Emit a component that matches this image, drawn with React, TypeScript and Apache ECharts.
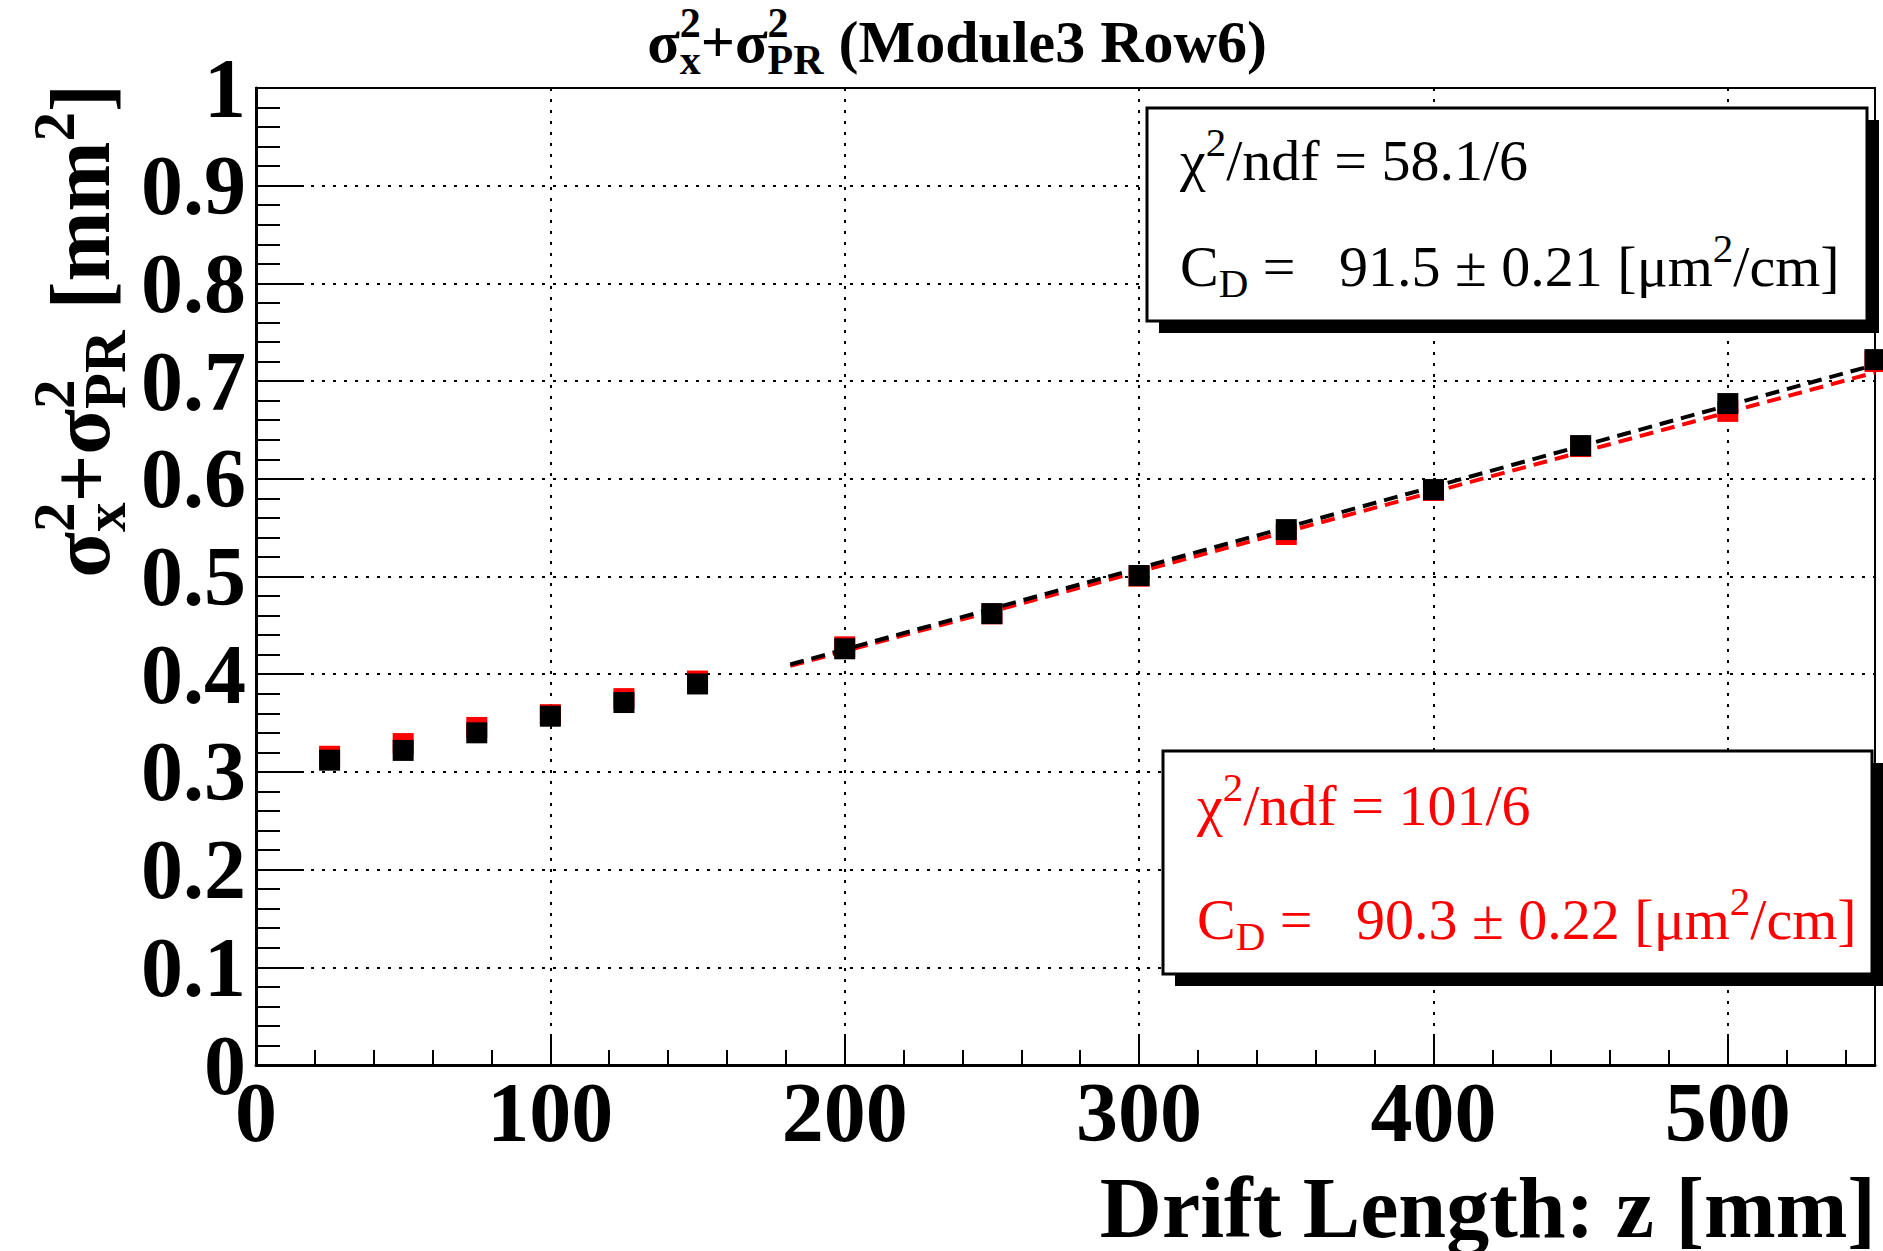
import React, { useEffect, useRef } from 'react';
import * as echarts from 'echarts';

// ---- data ----
const driftZ = [25, 50, 75, 100, 125, 150, 200, 250, 300, 350, 400, 450, 500, 550];
const sigmaBlack = [0.312, 0.322, 0.340, 0.357, 0.371, 0.390, 0.426, 0.462, 0.501, 0.548, 0.589, 0.634, 0.677, 0.722];
const sigmaRed = [0.316, 0.329, 0.3455, 0.3586, 0.375, 0.393, 0.428, 0.4618, 0.5003, 0.543, 0.588, 0.633, 0.669, 0.720];
const fitBlackZ = [181.5, 550];
const fitBlackY = [0.410, 0.7167];
const fitRedZ = [181.5, 550];
const fitRedY = [0.4085, 0.7088];
const xTickLabels = [0, 100, 200, 300, 400, 500];
const statBlack = { chi: '58.1/6', cd: '91.5 ± 0.21' };
const statRed = { chi: '101/6', cd: '90.3 ± 0.22' };

const FONT = '"Liberation Serif", "Times New Roman", serif';
const RED = '#ff0000';

let measureCtx: CanvasRenderingContext2D | null = null;
function tw(text: string, size: number, weight: string) {
  if (!measureCtx) measureCtx = document.createElement('canvas').getContext('2d');
  measureCtx!.font = `${weight} ${size}px "Liberation Serif"`;
  return measureCtx!.measureText(text).width;
}

type Piece = { t?: string; sup?: string; sub?: string; g?: number };

function layout(pieces: Piece[], S: number, weight: string, color: string, x0: number, y0: number, align: 'left' | 'right' | 'center', z = 50) {
  const s = Math.round(S * 0.7);
  const widths = pieces.map((p) => {
    if (p.g !== undefined) return p.g * S;
    if (p.t !== undefined) return tw(p.t, S, weight);
    return Math.max(p.sup ? tw(p.sup, s, weight) : 0, p.sub ? tw(p.sub, s, weight) : 0);
  });
  const total = widths.reduce((a, b) => a + b, 0);
  let x = align === 'left' ? x0 : align === 'right' ? x0 - total : x0 - total / 2;
  const els: any[] = [];
  const mk = (text: string, px: number, py: number, size: number) => ({
    type: 'text', x: px, y: py, silent: true, z,
    style: { text, fontSize: size, fontFamily: FONT, fontWeight: weight, fill: color, align: 'left', verticalAlign: 'middle' },
  });
  pieces.forEach((p, i) => {
    if (p.t !== undefined) els.push(mk(p.t, x, y0, S));
    else if (p.g === undefined) {
      if (p.sup) els.push(mk(p.sup, x, y0 - 0.31 * S, s));
      if (p.sub) els.push(mk(p.sub, x, y0 + 0.3 * S, s));
    }
    x += widths[i];
  });
  return els;
}

function statBox(x: number, y: number, w: number, h: number, color: string, chi: string, cd: string, tx: number, y1: number, y2: number) {
  const S = 58;
  return [
    { type: 'rect', shape: { x: x + 12, y: y + 12, width: w, height: h }, style: { fill: '#000' }, silent: true, z: 100 },
    { type: 'rect', shape: { x, y, width: w, height: h }, style: { fill: '#fff', stroke: '#000', lineWidth: 3 }, silent: true, z: 101 },
    ...layout([{ t: 'χ' }, { sup: '2' }, { t: '/ndf = ' + chi }], S, 'normal', color, tx, y1, 'left', 110),
    ...layout([{ t: 'C' }, { sub: 'D' }, { g: 0.25 }, { t: '=' }, { g: 0.75 }, { t: cd + ' [μm' }, { sup: '2' }, { t: '/cm]' }], S, 'normal', color, tx, y2, 'left', 110),
  ];
}

export default function App() {
  const ref = useRef<HTMLDivElement>(null);
  useEffect(() => {
    if (!ref.current) return;
    const chart = echarts.init(ref.current, null, { renderer: 'svg' });
    const axisLineStyle = { color: '#000', width: 3 };
    const tickStyle = { color: '#000', width: 2 };
    const gridStyle = { color: '#000', width: 2, type: [3, 8] as any };
    const labelStyle = { color: '#000', fontFamily: FONT, fontWeight: 'bold' as const, fontSize: 84 };

    const title = layout(
      [{ t: 'σ' }, { sup: '2', sub: 'x' }, { t: '+σ' }, { sup: '2', sub: 'PR' }, { g: 0.25 }, { t: '(Module3 Row6)' }],
      60, 'bold', '#000', 957, 42, 'center');
    const yTitle = layout(
      [{ t: 'σ' }, { sup: '2', sub: 'x' }, { t: '+σ' }, { sup: '2', sub: 'PR' }, { g: 0.25 }, { t: '[mm' }, { sup: '2' }, { t: ']' }],
      84, 'bold', '#000', 0, 0, 'right');
    const xTitle = layout([{ t: 'Drift Length: z [mm]' }], 86, 'bold', '#000', 1876, 1208, 'right');

    chart.setOption({
      animation: false,
      backgroundColor: '#fff',
      grid: { left: 256, top: 88, width: 1619, height: 977, show: true, borderColor: '#000', borderWidth: 2, backgroundColor: 'transparent', containLabel: false },
      xAxis: [
        {
          type: 'value', min: 0, max: 550, interval: 100, position: 'bottom',
          axisLine: { show: true, onZero: false, lineStyle: axisLineStyle },
          axisTick: { show: true, inside: true, length: 29, lineStyle: tickStyle },
          axisLabel: { ...labelStyle, margin: 5, showMaxLabel: false, formatter: (v: number) => (xTickLabels.includes(v) ? String(v) : '') },
          splitLine: { show: true, lineStyle: gridStyle },
        },
        {
          type: 'value', min: 0, max: 550, interval: 20, position: 'bottom',
          axisLine: { show: false, onZero: false },
          axisTick: { show: true, inside: true, length: 15, lineStyle: tickStyle },
          axisLabel: { show: false },
          splitLine: { show: false },
        },
      ],
      yAxis: {
        type: 'value', min: 0, max: 1, interval: 0.1,
        axisLine: { show: true, onZero: false, lineStyle: axisLineStyle },
        axisTick: { show: true, inside: true, length: 48, lineStyle: tickStyle },
        minorTick: { show: true, splitNumber: 5, length: 24, lineStyle: tickStyle },
        axisLabel: { ...labelStyle, margin: 10 },
        splitLine: { show: true, lineStyle: gridStyle },
      },
      series: [
        {
          type: 'scatter', name: 'red', symbol: 'rect', symbolSize: 21, clip: false, z: 2,
          itemStyle: { color: RED, opacity: 1 },
          data: driftZ.map((z, i) => [z, sigmaRed[i]]),
        },
        {
          type: 'line', name: 'redFit', showSymbol: false, z: 3,
          lineStyle: { color: RED, width: 4, type: [14, 8] as any },
          data: fitRedZ.map((z, i) => [z, fitRedY[i]]),
        },
        {
          type: 'scatter', name: 'black', symbol: 'rect', symbolSize: 21, clip: false, z: 4,
          itemStyle: { color: '#000', opacity: 1 },
          data: driftZ.map((z, i) => [z, sigmaBlack[i]]),
        },
        {
          type: 'line', name: 'blackFit', showSymbol: false, z: 5,
          lineStyle: { color: '#000', width: 4, type: [14, 8] as any },
          data: fitBlackZ.map((z, i) => [z, fitBlackY[i]]),
        },
      ],
      graphic: [
        ...title,
        { type: 'group', x: 80, y: 84, rotation: Math.PI / 2, children: yTitle },
        ...xTitle,
        ...statBox(1147, 108, 720, 213, '#000', statBlack.chi, statBlack.cd, 1180, 160, 266),
        ...statBox(1163, 751, 709, 223, RED, statRed.chi, statRed.cd, 1197, 805, 919),
      ],
    });
    return () => chart.dispose();
  }, []);
  return <div ref={ref} style={{ position: 'fixed', left: 0, top: 0, width: 1883, height: 1251, background: '#fff' }} />;
}
